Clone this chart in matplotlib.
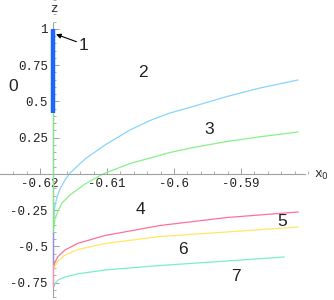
import matplotlib
matplotlib.use("Agg")
import matplotlib.pyplot as plt
from matplotlib.ticker import FixedLocator, FixedFormatter, MultipleLocator

# ---- data ----
x_axis_pos = -0.618
cyan_x = [-0.61791, -0.61787, -0.61776, -0.61746, -0.61701, -0.61627, -0.61552, -0.61328, -0.61030,
          -0.60657, -0.60358, -0.60060, -0.59716, -0.59209, -0.58716, -0.58149]
cyan_z = [-0.2897, -0.2552, -0.2207, -0.1586, -0.1034, -0.0414, 0.0069, 0.1034, 0.2000,
          0.3034, 0.3690, 0.4207, 0.4655, 0.5345, 0.5931, 0.6483]

green_x = [-0.61791, -0.61787, -0.61776, -0.61761, -0.61731, -0.61672, -0.61552, -0.61328, -0.61060,
           -0.60657, -0.60060, -0.59716, -0.59209, -0.58716, -0.58149]
green_z = [-0.3724, -0.3379, -0.3103, -0.2897, -0.2552, -0.2000, -0.1448, -0.0690, 0.0000,
           0.0724, 0.1483, 0.1828, 0.2241, 0.2566, 0.2897]

pink_x = [-0.61787, -0.61776, -0.61731, -0.61627, -0.61433, -0.61030, -0.60209, -0.59209, -0.58149]
pink_z = [-0.6276, -0.6069, -0.5690, -0.5241, -0.4779, -0.4241, -0.3552, -0.3000, -0.2621]

yellow_x = [-0.61787, -0.61776, -0.61731, -0.61627, -0.61433, -0.61030, -0.60209, -0.59209, -0.58149]
yellow_z = [-0.6552, -0.6345, -0.6000, -0.5586, -0.5207, -0.4793, -0.4310, -0.4000, -0.3655]

aqua_x = [-0.61787, -0.61776, -0.61731, -0.61627, -0.61433, -0.61030, -0.60209, -0.59209, -0.58358]
aqua_z = [-0.7724, -0.7552, -0.7310, -0.7103, -0.6883, -0.6621, -0.6310, -0.6000, -0.5724]

# segments on the z axis (x = x_axis_pos)
blue_seg = [0.42, 1.0]
green_seg = [-0.41, 0.42]
lavender_seg = [-0.62, -0.41]
pink_seg = [-0.77, -0.62]

xticks = [-0.62, -0.61, -0.60, -0.59]
xtick_labels = ["-0.62", "-0.61", "-0.6", "-0.59"]
yticks = [-0.75, -0.5, -0.25, 0.25, 0.5, 0.75, 1.0]
ytick_labels = ["-0.75", "-0.5", "-0.25", "0.25", "0.5", "0.75", "1"]

region_labels = ["0", "1", "2", "3", "4", "5", "6", "7"]
region_x = [-0.62403, -0.61358, -0.60463, -0.59478, -0.60507, -0.58388, -0.59866, -0.59075]
region_z = [0.600, 0.883, 0.703, 0.310, -0.248, -0.331, -0.524, -0.710]

# ---- figure ----
fig = plt.figure(figsize=(3.34, 3.0), dpi=100)
ax = fig.add_axes([0, 0, 1, 1])
ax.set_xlim(-0.62597, -0.57612)
ax.set_ylim(-0.869, 1.2)
ax.patch.set_alpha(0)

lw = 0.9
ax.plot(cyan_x, cyan_z, color="#88d4ff", lw=lw)
ax.plot(green_x, green_z, color="#88f088", lw=lw)
ax.plot(pink_x, pink_z, color="#ff6f9a", lw=lw)
ax.plot(yellow_x, yellow_z, color="#ffe866", lw=lw)
ax.plot(aqua_x, aqua_z, color="#77f0c8", lw=lw)

ax.plot([x_axis_pos] * 2, green_seg, color="#88e088", lw=1.0, zorder=3)
ax.plot([x_axis_pos] * 2, lavender_seg, color="#9090ee", lw=1.0, zorder=3)
ax.plot([x_axis_pos] * 2, pink_seg, color="#ff90b0", lw=1.0, zorder=3)
ax.plot([x_axis_pos] * 2, blue_seg, color="#1a66ff", lw=3.2, zorder=4, solid_capstyle="butt")

# axes as spines through the origin
for s in ["top", "right"]:
    ax.spines[s].set_visible(False)
ax.spines["left"].set_position(("data", x_axis_pos))
ax.spines["bottom"].set_position(("data", 0))
ax.spines["left"].set_bounds(-0.85, 1.04)
ax.spines["bottom"].set_bounds(-0.62597, -0.5805)
for s in ["left", "bottom"]:
    ax.spines[s].set_color("#a0a0a0")
    ax.spines[s].set_linewidth(0.8)

ax.xaxis.set_major_locator(FixedLocator(xticks))
ax.xaxis.set_major_formatter(FixedFormatter(xtick_labels))
ax.xaxis.set_minor_locator(MultipleLocator(0.002))
ax.yaxis.set_major_locator(FixedLocator(yticks))
ax.yaxis.set_major_formatter(FixedFormatter(ytick_labels))
ax.yaxis.set_minor_locator(MultipleLocator(0.05))

mono = "Liberation Mono"
ax.tick_params(axis="both", which="major", direction="in", length=4, width=0.7,
               color="#a0a0a0", labelsize=9, labelcolor="#222222")
ax.tick_params(axis="both", which="minor", direction="in", length=2, width=0.6, color="#a0a0a0")
ax.tick_params(axis="x", pad=3)
ax.tick_params(axis="y", pad=4)
for lab in ax.get_xticklabels() + ax.get_yticklabels():
    lab.set_family(mono)

ax.text(x_axis_pos, 1.138, "z", family=mono, fontsize=9, ha="center", va="center", color="#222222")
ax.text(-0.57806, -0.007, "x$_0$", family=mono, fontsize=9, ha="center", va="center", color="#222222")

for lab, xx, zz in zip(region_labels, region_x, region_z):
    ax.text(xx, zz, lab, family="Liberation Sans", fontsize=12.5, ha="center", va="center", color="#222222")

ax.annotate("", xy=(x_axis_pos, 0.97), xytext=(-0.61418, 0.906),
            arrowprops=dict(arrowstyle="-|>", color="black", lw=0.8, mutation_scale=7))

fig.savefig("out.png", dpi=100)
